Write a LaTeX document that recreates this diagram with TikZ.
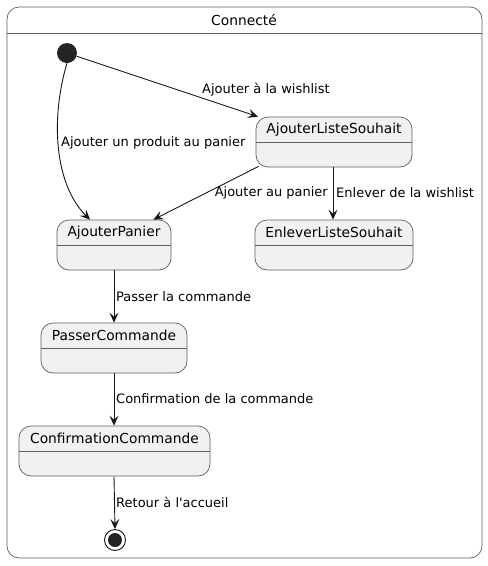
\documentclass[tikz,border=0pt]{standalone}
\usepackage{fontspec}
\setmainfont{DejaVu Sans}
\newfontfamily\dv{DejaVu Sans}
\usetikzlibrary{arrows.meta}
\definecolor{stfill}{HTML}{F1F1F1}
\definecolor{stborder}{HTML}{5E5E5E}
\definecolor{arr}{HTML}{181818}
\tikzset{
  stbox/.style={draw=stborder, fill=stfill, line width=0.7pt, rounded corners=12pt, inner sep=0pt},
  sttitle/.style={font=\dv\fontsize{13.8}{15}\selectfont, inner sep=0pt},
  lbl/.style={font=\dv\fontsize{13}{14}\selectfont, inner sep=0pt, text=black},
  tr/.style={draw=arr, line width=0.9pt, -{Stealth[length=10pt,width=9pt,inset=4pt]}},
  divider/.style={draw=stborder, line width=0.7pt}
}
\begin{document}
\begin{tikzpicture}[x=1pt,y={(0pt,-1pt)}]
\useasboundingbox (0,0) rectangle (488,566);
% outer composite state
\node[stbox, fill=white, minimum width=475pt, minimum height=551pt] (con) at (244.5,282.5) {};
\draw[divider] (con.west |- 0,33) -- (con.east |- 0,33);
\node[sttitle] (contitle) at (244,20) {Connecté};

% states
\node[stbox, minimum width=156pt, minimum height=50pt] (als) at (334,142) {};
\node[stbox, minimum width=114pt, minimum height=50pt] (ap) at (114,245) {};
\node[stbox, minimum width=158pt, minimum height=50pt] (els) at (334,245) {};
\node[stbox, minimum width=146pt, minimum height=50pt] (pc) at (114,348) {};
\node[stbox, minimum width=191pt, minimum height=50pt] (cc) at (114.5,451) {};

\foreach \n/\t in {als/AjouterListeSouhait, ap/AjouterPanier, els/EnleverListeSouhait, pc/PasserCommande, cc/ConfirmationCommande}{
  \draw[divider] ([yshift=-26pt]\n.north west) -- ([yshift=-26pt]\n.north east);
  \node[sttitle, anchor=center] (\n t) at ([yshift=-13pt]\n.north) {\t};
}

% initial & final
\node[circle, fill=arr!95!white, minimum size=20pt, inner sep=0pt] (init) at (67,53) {};
\node[circle, draw=arr, line width=0.9pt, fill=white, minimum size=21pt, inner sep=0pt] (fin) at (115,540) {};
\node[circle, fill=arr!95!white, minimum size=14pt, inner sep=0pt] (finin) at (115,540) {};

% transitions
\draw[tr] (init) -- (als);
\draw[tr] (init.south) .. controls (50,120) and (55,185) .. ([xshift=-24pt]ap.north);
\draw[tr] ([xshift=3pt,yshift=1pt]als.south west) -- ([xshift=-18pt]ap.north east);
\draw[tr] ([xshift=-1pt]als.south) -- ([xshift=-1pt]els.north);
\draw[tr] (ap.south) -- (pc.north);
\draw[tr] (pc.south) -- ([xshift=-0.5pt]cc.north);
\draw[tr] ([xshift=-0.5pt]cc.south) -- (fin.north);

% labels
\node[lbl, anchor=west] (l1) at (202,90) {Ajouter à la wishlist};
\node[lbl, anchor=west] (l2) at (61,143) {Ajouter un produit au panier};
\node[lbl, anchor=east] (l3) at (328,193) {Ajouter au panier};
\node[lbl, anchor=west] (l4) at (336,193) {Enlever de la wishlist};
\node[lbl, anchor=west] (l5) at (116,297) {Passer la commande};
\node[lbl, anchor=west] (l6) at (116,399) {Confirmation de la commande};
\node[lbl, anchor=west] (l7) at (116,502) {Retour à l'accueil};
\end{tikzpicture}
\end{document}
